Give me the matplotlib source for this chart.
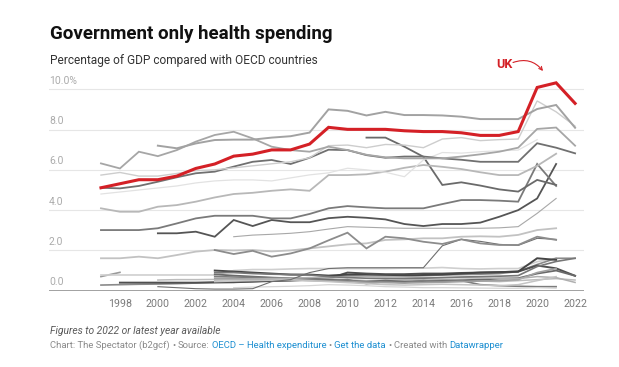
import matplotlib
matplotlib.use('Agg')
import matplotlib.pyplot as plt

plt.rcParams['font.family'] = ['Roboto', 'DejaVu Sans']

W, H = 619, 367

# ---------------- data (share of GDP, %) ----------------
years_all = list(range(1997, 2023))
tick_years = list(range(1998, 2023, 2))
y_ticks = [0, 2, 4, 6, 8, 10]
y_tick_labels = ["0.0", "2.0", "4.0", "6.0", "8.0", "10.0%"]

uk = [5.11, 5.31, 5.51, 5.51, 5.69, 6.07, 6.29, 6.68, 6.78, 6.99, 6.99, 7.28, 8.11,
      8.01, 8.01, 8.01, 7.94, 7.90, 7.90, 7.84, 7.71, 7.71, 7.90, 10.09, 10.32, 9.30]

c_a_start = 1997
c_a = [6.32, 6.07, 6.9, 6.68, 6.98, 7.4, 7.73, 7.89, 7.56, 7.15, 6.98, 6.9, 7.15, 6.98,
       6.75, 6.62, 6.57, 6.57, 6.57, 6.66, 6.77, 6.9, 7.1, 8.03, 8.1, 7.2]
c_b_start = 2000
c_b = [7.2, 7.07, 7.31, 7.48, 7.5, 7.5, 7.6, 7.67, 7.85, 9.0, 8.93, 8.7, 8.88, 8.72,
       8.72, 8.7, 8.64, 8.52, 8.52, 8.52, 9.02, 9.22, 8.09]
c_c_start = 1997
c_c = [5.74, 5.87, 5.69, 5.69, 5.82, 5.96, 6.0, 6.1, 6.2, 6.3, 6.4, 6.6, 7.2, 7.23,
       7.1, 7.26, 7.23, 7.1, 7.53, 7.6, 7.45, 7.5, 7.53, 9.42, 8.88, 8.17]
c_d_start = 1997
c_d = [5.11, 5.08, 5.2, 5.41, 5.63, 5.83, 5.91, 6.16, 6.4, 6.49, 6.29, 6.6, 7.0, 6.98,
       6.73, 6.6, 6.66, 6.66, 6.57, 6.5, 6.4, 6.4, 6.4, 7.32, 7.1, 6.82]
c_e_start = 1997
c_e = [4.8, 4.9, 5.0, 5.1, 5.2, 5.35, 5.45, 5.5, 5.5, 5.45, 5.6, 5.75, 5.85, 6.08,
       6.0, 5.88, 5.66, 6.49, 6.86, 6.83, 6.9, 6.95, 6.98, 7.5]
c_f_start = 1997
c_f = [4.09, 3.92, 3.92, 4.17, 4.25, 4.42, 4.63, 4.8, 4.86, 4.96, 5.03, 4.96, 5.74,
       5.74, 5.78, 5.91, 6.1, 6.24, 6.15, 6.04, 5.88, 5.74, 5.74, 6.2, 6.8]
c_g_start = 2011
c_g = [7.6, 7.6, 7.15, 6.65, 5.25, 5.38, 5.22, 5.03, 4.92, 5.5, 5.25]
c_i_start = 1997
c_i = [3.01, 3.01, 3.01, 3.1, 3.34, 3.59, 3.72, 3.72, 3.72, 3.59, 3.59, 3.81, 4.09,
       4.2, 4.14, 4.09, 4.09, 4.09, 4.3, 4.5, 4.5, 4.47, 4.42, 6.29, 5.2]
c_j_start = 2000
c_j = [2.85, 2.85, 2.93, 2.68, 3.51, 3.21, 3.51, 3.4, 3.4, 3.6, 3.67, 3.62, 3.54,
       3.31, 3.21, 3.31, 3.31, 3.38, 3.67, 4.0, 4.58, 6.29]
c_k_start = 2004
c_k = [2.68, 2.76, 2.8, 2.85, 2.93, 3.06, 3.18, 3.15, 3.12, 3.1, 3.1, 3.1, 3.1, 3.1,
       3.12, 3.18, 3.84, 4.58]
c_l_start = 2003
c_l = [2.02, 1.82, 1.98, 1.69, 1.85, 2.1, 2.5, 2.88, 2.1, 2.68, 2.6, 2.43, 2.32, 2.55,
       2.35, 2.27, 2.27, 2.68, 2.52]
c_m_start = 1997
c_m = [1.61, 1.61, 1.69, 1.61, 1.77, 1.94, 2.02, 2.0, 2.02, 1.95, 2.0, 2.1, 2.2, 2.3,
       2.35, 2.52, 2.55, 2.6, 2.6, 2.68, 2.7, 2.68, 2.77, 3.01, 3.1]
c_n_start = 2000
c_n = [0.2, 0.15, 0.1, 0.08, 0.08, 0.1, 0.45, 0.55, 0.9, 1.1, 1.14, 1.14, 1.14, 1.14,
       1.14, 2.23, 2.55, 2.45, 2.3, 2.25, 2.6, 2.55]
b1_start = 1997
b1 = [0.70, 0.91]
b2_start = 1997
b2 = [0.78, 0.78, 0.78, 0.78, 0.78, 0.78, 0.78, 1.0, 1.05, 1.05, 1.08, 1.1, 1.1, 1.1,
      1.1, 1.1, 1.12, 1.12, 1.15, 1.1, 1.08, 1.1, 1.1, 1.44, 1.61]
b3_start = 1997
b3 = [0.28, 0.3, 0.32, 0.33, 0.35, 0.38, 0.4, 0.42, 0.45, 0.5, 0.55, 0.6, 0.7, 0.75,
      0.72, 0.7, 0.72, 0.75, 0.78, 0.8, 0.82, 0.85, 0.95, 1.3, 1.61, 1.61]
b4_start = 1998
b4 = [0.4, 0.4, 0.4, 0.4, 0.4, 0.42, 0.42, 0.45, 0.48, 0.5, 0.55, 0.6, 0.9, 0.85, 0.82,
      0.82, 0.85, 0.85, 0.88, 0.9, 0.92, 0.95, 1.25, 1.11, 0.74]
b5_start = 2000
b5 = [0.53, 0.55, 0.55, 0.56, 0.58, 0.6, 0.62, 0.62, 0.65, 0.6, 0.55, 0.5, 0.5, 0.52,
      0.55, 0.55, 0.5, 0.48, 0.45, 0.5, 0.55, 0.6, 0.53]
b6_start = 2003
b6 = [1.0, 0.95, 0.9, 0.85, 0.8, 0.8, 0.75, 0.8, 0.78, 0.75, 0.75, 0.78, 0.8, 0.85,
      0.9, 0.92, 0.95, 1.61, 1.53]
b7_start = 2003
b7 = [0.81, 0.75, 0.7, 0.65, 0.62, 0.6, 0.55, 0.5, 0.45, 0.5, 0.45, 0.48, 0.5, 0.52,
      0.55, 0.6, 0.62, 0.85, 1.0, 0.74]
b8_start = 2003
b8 = [0.7, 0.68, 0.66, 0.64, 0.6, 0.55, 0.5, 0.55, 0.35, 0.45, 0.4, 0.5, 0.45, 0.5,
      0.3, 0.25, 0.22, 0.2, 0.2]
b9_start = 2003
b9 = [0.61, 0.6, 0.58, 0.55, 0.52, 0.5, 0.48, 0.45, 0.42, 0.4, 0.38, 0.4, 0.42, 0.45,
      0.48, 0.5, 0.55, 0.9, 1.1]
b10_start = 2003
b10 = [0.53, 0.55, 0.58, 0.6, 0.62, 0.65, 0.68, 0.7, 0.72, 0.7, 0.68, 0.66, 0.65, 0.64,
       0.63, 0.62, 0.6, 0.7, 0.65, 0.41]
b11_start = 2003
b11 = [0.45, 0.48, 0.5, 0.52, 0.55, 0.5, 0.45, 0.4, 0.35, 0.3, 0.28, 0.3, 0.32, 0.3,
       0.28, 0.25, 0.3, 0.5, 0.7]
b12_start = 2004
b12 = [0.15, 0.18, 0.2, 0.22, 0.25, 0.3, 0.28, 0.25, 0.2, 0.18, 0.15, 0.15, 0.14, 0.13,
       0.12, 0.12, 0.15, 0.12]
b13_start = 2003
b13 = [0.9, 0.9, 0.85, 0.82, 0.8, 0.78, 0.7, 0.65, 0.62, 0.6, 0.6, 0.62, 0.65, 0.68,
       0.7, 0.72, 0.75, 1.2, 1.45, 1.61]

others = [
    (b1_start, b1), (b2_start, b2), (b3_start, b3), (b4_start, b4), (b5_start, b5),
    (b6_start, b6), (b7_start, b7), (b8_start, b8), (b9_start, b9), (b10_start, b10),
    (b11_start, b11), (b12_start, b12), (b13_start, b13),
    (c_m_start, c_m), (c_n_start, c_n), (c_l_start, c_l), (c_k_start, c_k),
    (c_j_start, c_j), (c_i_start, c_i), (c_g_start, c_g), (c_f_start, c_f),
    (c_e_start, c_e), (c_d_start, c_d), (c_c_start, c_c), (c_a_start, c_a),
    (c_b_start, c_b),
]
# styles, one per series in `others`
other_colors = [
    '#9a9a9a', '#cfcfcf', '#8a8a8a', '#4f4f4f', '#bdbdbd',
    '#454545', '#6a6a6a', '#7d7d7d', '#a0a0a0', '#b0b0b0',
    '#c4c4c4', '#d6d6d6', '#777777',
    '#c2c2c2', '#6e6e6e', '#8c8c8c', '#a8a8a8',
    '#555555', '#7a7a7a', '#6a6a6a', '#b8b8b8',
    '#e2e2e2', '#707070', '#cdcdcd', '#a6a6a6',
    '#a2a2a2',
]
other_widths = [
    1.2, 1.2, 1.2, 1.4, 1.1,
    1.4, 1.3, 1.2, 1.2, 1.1,
    1.1, 0.9, 1.2,
    1.3, 0.8, 1.3, 0.8,
    1.3, 1.3, 1.3, 1.3,
    0.9, 1.3, 1.0, 1.3,
    1.4,
]

# ---------------- figure ----------------
fig = plt.figure(figsize=(W / 100, H / 100), dpi=100)
fig.patch.set_facecolor('white')

ax_left, ax_right = 49, 584
ax_bottom_px, ax_top_px = 290.7, 79.2
ax = fig.add_axes([ax_left / W, 1 - ax_bottom_px / H,
                   (ax_right - ax_left) / W, (ax_bottom_px - ax_top_px) / H])
ax.set_xlim(1994.26, 2022.47)
ax.set_ylim(0, 10.5)
for s in ax.spines.values():
    s.set_visible(False)
ax.set_facecolor('none')

for v in y_ticks[1:]:
    ax.axhline(v, color='#e6e6e6', lw=0.8, zorder=0)
ax.axhline(0, color='#9a9a9a', lw=1.3, zorder=1)

for (start, vals), col, lw in zip(others, other_colors, other_widths):
    xs = list(range(start, start + len(vals)))
    ax.plot(xs, vals, color=col, lw=lw, solid_joinstyle='miter', zorder=2)

ax.plot(years_all, uk, color='#d42026', lw=2.2, zorder=5, clip_on=False,
        solid_joinstyle='miter')

ax.set_xticks(tick_years)
ax.set_xticklabels([str(y) for y in tick_years], fontsize=7.7, color='#7a7a7a')
ax.tick_params(axis='x', length=0, pad=6)
ax.set_yticks([])

for v, lab in zip(y_ticks, y_tick_labels):
    ax.annotate(lab, xy=(0, v), xycoords=('axes fraction', 'data'),
                xytext=(0, 2.5), textcoords='offset points',
                ha='left', va='bottom', fontsize=7.5, color='#ababab')

# ---------------- texts ----------------
renderer = fig.canvas.get_renderer()


def fit_width(t, target_px):
    bb = t.get_window_extent(renderer)
    t.set_fontsize(t.get_fontsize() * target_px / bb.width)


def fx(px):
    return px / W


def fy(py):
    return 1 - py / H


title = fig.text(fx(50), fy(34), "Government only health spending",
                 fontsize=13, fontweight='bold', color='#111111', va='center')
fit_width(title, 283)
sub = fig.text(fx(50), fy(60.5), "Percentage of GDP compared with OECD countries",
               fontsize=9.5, color='#333333', va='center')
fit_width(sub, 268)

note = fig.text(fx(50), fy(330.5), "Figures to 2022 or latest year available",
                fontsize=7, style='italic', color='#5a5a5a', va='center')
fit_width(note, 172)

grey, blue = '#8a8a8a', '#1d8fd1'
pieces = [("Chart: The Spectator (b2gcf)", grey), ("•", grey), ("Source:", grey),
          ("OECD – Health expenditure", blue), ("•", grey), ("Get the data", blue),
          ("•", grey), ("Created with", grey), ("Datawrapper", blue)]


def place(fs):
    objs = []
    x = 50.0
    gap = fs * 100 / 72 * 0.26
    for txt, col in pieces:
        t = fig.text(fx(x), fy(345.5), txt, fontsize=fs, color=col, va='center')
        w = t.get_window_extent(renderer).width
        objs.append(t)
        x += w + gap
    return objs, x - gap


objs, end = place(6.5)
target_end = 499
for o in objs:
    o.remove()
fs2 = 6.5 * (target_end - 50) / (end - 50)
place(fs2)

# UK annotation
fig.text(fx(504), fy(64.5), "UK", fontsize=9, fontweight='bold', color='#d42026',
         ha='center', va='center')
ax.annotate("", xy=(fx(543), fy(71)), xycoords='figure fraction',
            xytext=(fx(513), fy(62.5)), textcoords='figure fraction',
            arrowprops=dict(arrowstyle='->', color='#d42026', lw=0.8,
                            connectionstyle='arc3,rad=-0.35',
                            shrinkA=0, shrinkB=0, mutation_scale=6))

fig.savefig('out.png', dpi=100, facecolor='white')
